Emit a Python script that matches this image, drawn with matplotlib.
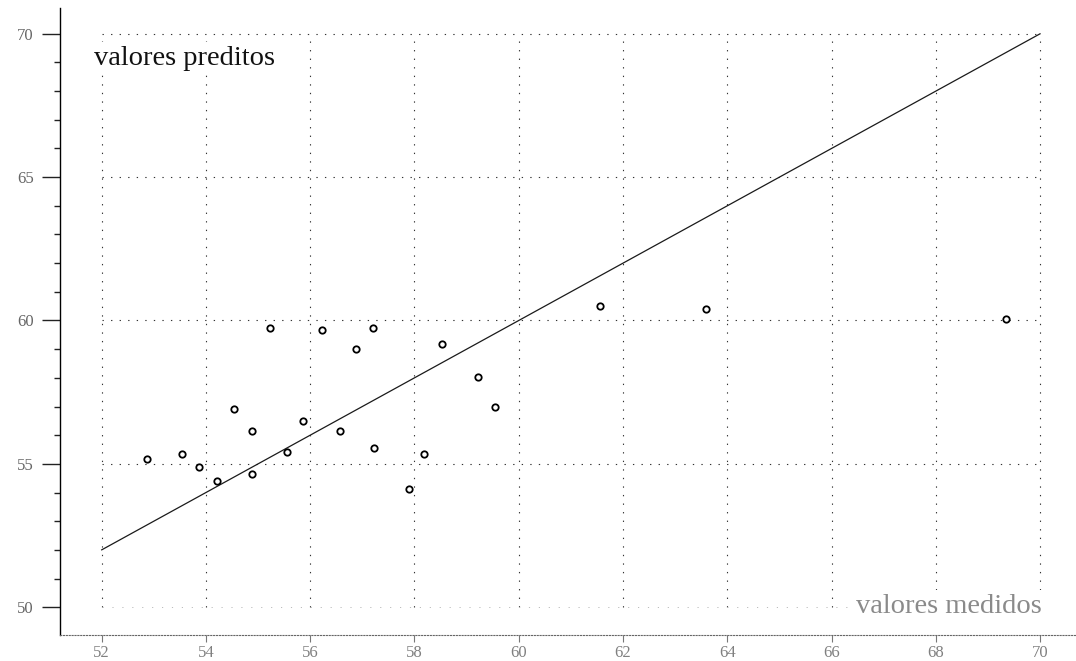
import numpy as np
import matplotlib
matplotlib.use("Agg")
import matplotlib.pyplot as plt
from matplotlib.ticker import FixedLocator

# measured vs predicted values
medidos = [52.86, 53.54, 53.87, 54.22, 54.54, 54.88, 54.89, 55.22, 55.56, 55.87,
           56.22, 56.57, 56.88, 57.21, 57.22, 57.89, 58.19, 58.52, 59.21, 59.54,
           61.56, 63.59, 69.35]
preditos = [55.18, 55.36, 54.89, 54.39, 56.90, 56.13, 54.66, 59.73, 55.40, 56.48,
            59.67, 56.15, 58.99, 59.73, 55.57, 54.11, 55.33, 59.18, 58.03, 56.98,
            60.51, 60.40, 60.04]

# identity line y = x
linha_x = [52, 70]
linha_y = [52, 70]

x_ticks = [52, 54, 56, 58, 60, 62, 64, 66, 68, 70]
y_ticks = [50, 55, 60, 65, 70]
y_minor = [v for v in range(50, 71) if v not in y_ticks]

serif = ["Liberation Serif", "DejaVu Serif"]

fig = plt.figure(figsize=(10.76, 6.61), dpi=100)
ax = fig.add_axes([60 / 1076, 26 / 661, 1016 / 1076, 627 / 661])
ax.set_xlim(51.2, 70.69)
ax.set_ylim(49.03, 70.9)

# dotted grid restricted to the data range
grid_style = dict(color="#333333", linewidth=0.8, linestyle=(0, (1.2, 6.5)), zorder=1)
ax.vlines(x_ticks, y_ticks[0], y_ticks[-1], **grid_style)
ax.hlines(y_ticks[1:], x_ticks[0], x_ticks[-1], **grid_style)
# the lowest grid line is barely visible
ax.hlines(y_ticks[0], x_ticks[0], x_ticks[-1], color="#bbbbbb", linewidth=0.7,
          linestyle=(0, (1.2, 9)), zorder=1)

ax.plot(linha_x, linha_y, color="#1a1a1a", linewidth=0.9, zorder=3)
ax.plot(medidos, preditos, linestyle="none", marker="o", markersize=4.6,
        markerfacecolor="white", markeredgecolor="black", markeredgewidth=1.3, zorder=4)

# spines
for side in ("top", "right"):
    ax.spines[side].set_visible(False)
ax.spines["left"].set_color("black")
ax.spines["left"].set_linewidth(1.0)
ax.spines["bottom"].set_color("#666666")
ax.spines["bottom"].set_linewidth(0.8)
ax.spines["bottom"].set_linestyle((0, (1, 1.6)))

ax.xaxis.set_major_locator(FixedLocator(x_ticks))
ax.yaxis.set_major_locator(FixedLocator(y_ticks))
ax.yaxis.set_minor_locator(FixedLocator(y_minor))
ax.tick_params(axis="y", which="major", direction="out", length=13, width=1.0,
               color="#222222", pad=6, labelsize=12, labelcolor="#666666")
ax.tick_params(axis="y", which="minor", direction="out", length=4, width=1.0,
               color="#222222")
ax.tick_params(axis="x", which="major", direction="out", length=5, width=0.8,
               color="#777777", pad=2, labelsize=12, labelcolor="#808080")
for lab in ax.get_xticklabels() + ax.get_yticklabels():
    lab.set_family(serif)

ax.text(0.0335, 0.909, "valores preditos", transform=ax.transAxes,
        fontsize=20.5, family=serif, color="#111111", ha="left", va="baseline",
        bbox=dict(facecolor="white", edgecolor="none", pad=3), zorder=5)
ax.text(0.9665, 0.035, "valores medidos", transform=ax.transAxes,
        fontsize=20.5, family=serif, color="#8a8a8a", ha="right", va="baseline",
        bbox=dict(facecolor="white", edgecolor="none", pad=3), zorder=5)

fig.savefig("out.png", dpi=100, facecolor="white")
